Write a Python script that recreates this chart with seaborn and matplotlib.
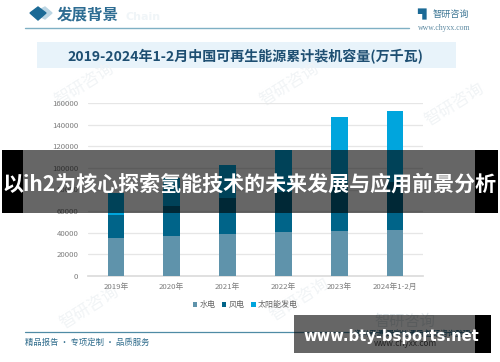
import matplotlib
matplotlib.use("Agg")
import matplotlib.pyplot as plt
from matplotlib.patches import Rectangle, Polygon
import pandas as pd
import seaborn as sns

years = ["2019年", "2020年", "2021年", "2022年", "2023年", "2024年1-2月"]
hydro = [35600, 37000, 39100, 41000, 41500, 42300]
wind = [21000, 28100, 32800, 36500, 44100, 44700]
solar = [20400, 25300, 30700, 39200, 61000, 65400]
series_names = ["水电", "风电", "太阳能发电"]
series_colors = ["#5f93ab", "#006489", "#00a5dd"]
y_ticks = [0, 20000, 40000, 60000, 80000, 100000, 120000, 140000, 160000]

sns.set_theme(style="white")
CJK = ["Noto Sans CJK SC", "DejaVu Sans"]
plt.rcParams["font.family"] = CJK

fig = plt.figure(figsize=(5, 3.62), dpi=100, facecolor="white")
W, H = 500, 362


def pixel_axes(z):
    a = fig.add_axes([0, 0, 1, 1], zorder=z)
    a.set_xlim(0, W)
    a.set_ylim(H, 0)
    a.axis("off")
    a.patch.set_alpha(0)
    return a


bg = pixel_axes(0)
# watermarks
for (x, y) in [(85, 85), (290, 85), (455, 105), (300, 300), (90, 308)]:
    bg.text(x, y, "智研咨询", fontsize=12, color="#f1f4f6", rotation=32, ha="center", va="center")

# header
bg.add_patch(Polygon([[41, 9], [45, 7], [52, 13], [45, 19], [41, 17]], color="#bcd6e4"))
bg.add_patch(Polygon([[30, 13], [38, 7], [46, 13], [38, 20]], color="#1b6a96"))
bg.text(57, 14, "发展背景", fontsize=11.2, color="#2d6c92", fontweight="bold", va="center", ha="left")
bg.text(126, 17, "Chain", fontsize=8, color="#f0f5f8", fontweight="bold", va="center", ha="left", family="DejaVu Sans")
bg.plot([25, 409], [28, 28], color="#7fb0c4", lw=1)
bg.text(417, 14, "▜", fontsize=8, color="#1b6a96", va="center", ha="left", family="DejaVu Sans")
bg.text(433, 14, "智研咨询", fontsize=6.6, color="#3f7896", va="center", ha="left")
bg.text(470, 28, "www.chyxx.com", fontsize=5.6, color="#5f8ba3", va="center", ha="right", family="Liberation Serif")

# title band
bg.add_patch(Rectangle((37, 42), 419, 26, color="#e8f3fa", lw=0))
bg.text(245, 57, "2019-2024年1-2月中国可再生能源累计装机容量(万千瓦)", fontsize=10.1,
        color="#1e4f72", fontweight="bold", ha="center", va="center")

# footer
bg.plot([25, 475], [332, 332], color="#4f8ba5", lw=0.9)
bg.text(25, 342, "精品报告 · 专项定制 · 品质服务", fontsize=6, color="#2f6c8c", ha="left", va="center")
bg.text(470, 334, "资料来源:国家能源局 智研咨询整理", fontsize=5.4, color="#2f6c8c", ha="right", va="center")
bg.text(405, 321, "智研咨询", fontsize=11, color="#dfe6ea", ha="center", va="center")
bg.text(405, 344, "www.chyxx.com", fontsize=6, color="#555555", ha="center", va="center")

# chart
ax = fig.add_axes([88 / W, 1 - 276 / H, (423 - 88) / W, (276 - 103) / H], zorder=1)
ax.patch.set_alpha(0)
df = pd.DataFrame({"year": years, "hydro": hydro, "wind": wind, "solar": solar})
bottoms = [0] * len(years)
for col, name, color in zip(["hydro", "wind", "solar"], series_names, series_colors):
    sns.barplot(data=df, x="year", y=col, color=color, width=0.3, bottom=bottoms,
                saturation=1, ax=ax, label=name, zorder=3, linewidth=0)
    bottoms = [b + v for b, v in zip(bottoms, df[col])]
ax.set_xlim(-0.5, 5.5)
ax.set_ylim(0, 160000)
ax.set_yticks(y_ticks)
ax.set_xlabel("")
ax.set_ylabel("")
ax.grid(axis="y", color="#e6e6e6", lw=0.9, zorder=0)
ax.grid(axis="x", visible=False)
sns.despine(ax=ax, left=True, top=True, right=True)
ax.spines["bottom"].set_color("#dcdcdc")
ax.tick_params(axis="both", length=0, labelsize=5.6, labelcolor="#7d7d7d", pad=7)
ax.tick_params(axis="x", pad=5)
ax.legend(loc="center", bbox_to_anchor=(0.47, -0.165), ncol=3, frameon=False, fontsize=5.8,
          labelcolor="#666666", handlelength=0.55, handleheight=0.55, handletextpad=0.3, columnspacing=0.8)

# overlays
top = pixel_axes(2)
top.add_patch(Rectangle((23, 150), 452, 63, color="black", alpha=0.6, lw=0))
top.add_patch(Rectangle((2, 150), 21, 63, color="black", lw=0))
top.add_patch(Rectangle((475, 150), 23, 63, color="black", lw=0))
top.text(250, 184, "以ih2为核心探索氢能技术的未来发展与应用前景分析", fontsize=15.1, color="white",
         fontweight="bold", ha="center", va="center")
top.add_patch(Rectangle((294, 315), 181, 38, color="black", alpha=0.6, lw=0))
top.add_patch(Rectangle((475, 315), 16, 38, color="black", lw=0))
top.text(391.5, 337, "www.bty-bsports.net", fontsize=10.6, color="white", fontweight="bold",
         ha="center", va="center", family="DejaVu Sans")

fig.savefig("out.png", dpi=100)
